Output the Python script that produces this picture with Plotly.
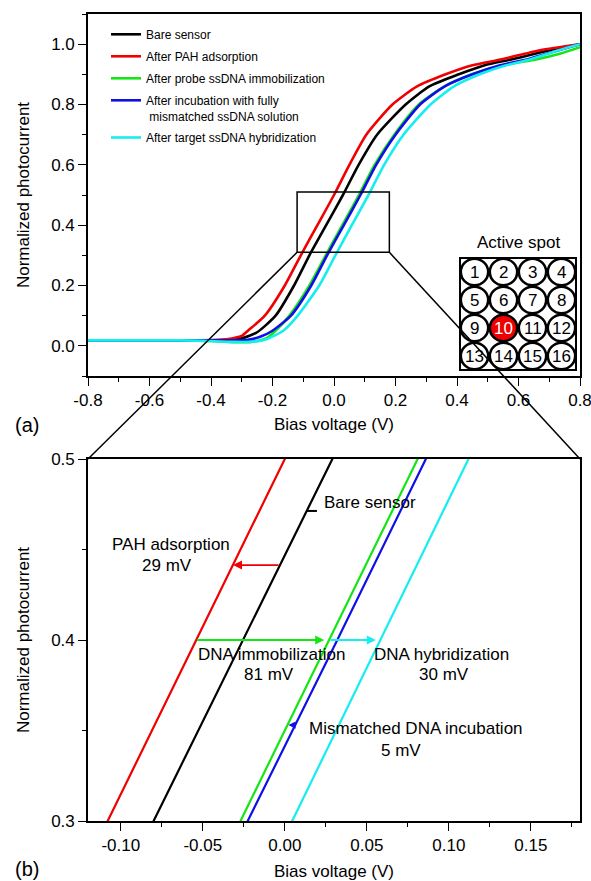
import plotly.graph_objects as go

# ---------------- data ----------------
series_names = [
    "Bare sensor",
    "After PAH adsorption",
    "After probe ssDNA immobilization",
    "After incubation with fully<br>\u00a0mismatched ssDNA solution",
    "After target ssDNA hybridization",
]
series_colors = ["#000000", "#f00000", "#14e614", "#1010e6", "#14eef0"]

bare_v = [-0.80, -0.50, -0.40, -0.35, -0.30, -0.25, -0.19, -0.13, -0.080, -0.0255, 0.029, 0.080, 0.140, 0.233, 0.31, 0.406, 0.49, 0.58, 0.70, 0.80]
bare_i = [0.018, 0.018, 0.018, 0.020, 0.025, 0.045, 0.10, 0.20, 0.30, 0.40, 0.50, 0.60, 0.70, 0.80, 0.86, 0.90, 0.93, 0.95, 0.98, 1.00]

pah_v = [-0.80, -0.50, -0.40, -0.35, -0.30, -0.28, -0.225, -0.160, -0.108, -0.054, 0.000, 0.050, 0.105, 0.19, 0.27, 0.363, 0.45, 0.546, 0.67, 0.80]
pah_i = [0.018, 0.018, 0.019, 0.022, 0.033, 0.05, 0.10, 0.20, 0.30, 0.40, 0.50, 0.60, 0.70, 0.80, 0.86, 0.90, 0.93, 0.95, 0.98, 1.00]

probe_v = [-0.80, -0.50, -0.40, -0.33, -0.27, -0.22, -0.19, -0.145, -0.080, -0.027, 0.027, 0.081, 0.132, 0.196, 0.276, 0.36, 0.449, 0.55, 0.66, 0.74, 0.80]
probe_i = [0.018, 0.018, 0.016, 0.012, 0.013, 0.025, 0.05, 0.10, 0.20, 0.30, 0.40, 0.50, 0.60, 0.70, 0.80, 0.86, 0.90, 0.93, 0.95, 0.97, 0.99]

mism_v = [-0.80, -0.50, -0.40, -0.33, -0.28, -0.24, -0.20, -0.14, -0.074, -0.0226, 0.032, 0.086, 0.137, 0.200, 0.28, 0.36, 0.45, 0.54, 0.63, 0.73, 0.80]
mism_i = [0.018, 0.018, 0.018, 0.018, 0.020, 0.030, 0.05, 0.10, 0.20, 0.30, 0.40, 0.50, 0.60, 0.70, 0.80, 0.86, 0.90, 0.93, 0.95, 0.98, 1.00]

target_v = [-0.80, -0.50, -0.40, -0.33, -0.27, -0.22, -0.165, -0.118, -0.048, 0.0045, 0.058, 0.112, 0.163, 0.226, 0.314, 0.39, 0.474, 0.56, 0.64, 0.73, 0.80]
target_i = [0.018, 0.018, 0.016, 0.013, 0.013, 0.022, 0.05, 0.10, 0.20, 0.30, 0.40, 0.50, 0.60, 0.70, 0.80, 0.86, 0.90, 0.93, 0.95, 0.98, 1.00]

series_v = [bare_v, pah_v, probe_v, mism_v, target_v]
series_i = [bare_i, pah_i, probe_i, mism_i, target_i]

# tick labels
a_xticks = [-0.8, -0.6, -0.4, -0.2, 0.0, 0.2, 0.4, 0.6, 0.8]
a_xlabels = ["-0.8", "-0.6", "-0.4", "-0.2", "0.0", "0.2", "0.4", "0.6", "0.8"]
a_yticks = [0.0, 0.2, 0.4, 0.6, 0.8, 1.0]
a_ylabels = ["0.0", "0.2", "0.4", "0.6", "0.8", "1.0"]
b_xticks = [-0.10, -0.05, 0.00, 0.05, 0.10, 0.15]
b_xlabels = ["-0.10", "-0.05", "0.00", "0.05", "0.10", "0.15"]
b_yticks = [0.3, 0.4, 0.5]
b_ylabels = ["0.3", "0.4", "0.5"]

# zoom window (panel b range) marked in panel a
zoom_x = [-0.12, 0.18]
zoom_y_box = [0.31, 0.51]
zoom_y = [0.3, 0.5]

# shifts annotated in panel b
pah_shift = {"y": 0.4414, "from": -0.0029, "to": -0.0316}
immob_shift = {"y": 0.4, "from": -0.0545, "to": 0.024}
hybrid_shift = {"y": 0.4, "from": 0.027, "to": 0.0555}
mism_shift = {"y": 0.353, "from": 0.0065, "to": 0.0022}

spot_numbers = list(range(1, 17))
active_spot = 10

# ---------------- layout geometry ----------------
W, H = 591, 881
L, R, T, B = 88, 11, 14, 60
PW, PH = W - L - R, H - T - B
A_RANGE_X = [-0.8, 0.8]
A_RANGE_Y = [-0.1, 1.1]
A_DOM = [(H - B - 376) / PH, 1.0]
B_DOM = [0.0, (H - B - 459) / PH]

FONT = "Liberation Sans, Arial, sans-serif"

def px(xp):
    return (xp - L) / PW

def py(yp):
    return (H - B - yp) / PH

def a_to_paper(x, y):
    fx = (x - A_RANGE_X[0]) / (A_RANGE_X[1] - A_RANGE_X[0])
    fy = A_DOM[0] + (y - A_RANGE_Y[0]) / (A_RANGE_Y[1] - A_RANGE_Y[0]) * (A_DOM[1] - A_DOM[0])
    return fx, fy

fig = go.Figure()

for k in range(5):
    fig.add_trace(go.Scatter(
        x=series_v[k], y=series_i[k], mode="lines",
        line=dict(color=series_colors[k], width=2.6, shape="spline", smoothing=0.6),
        name=series_names[k], xaxis="x", yaxis="y", showlegend=True,
        legendgroup="g%d" % k,
    ))
for k in range(5):
    fig.add_trace(go.Scatter(
        x=series_v[k], y=series_i[k], mode="lines",
        line=dict(color=series_colors[k], width=2.2),
        name=series_names[k], xaxis="x2", yaxis="y2", showlegend=False,
        legendgroup="g%d" % k,
    ))

axis_common = dict(
    showgrid=False, zeroline=False, showline=True, linecolor="black", linewidth=1.6,
    mirror=True, ticks="outside", tickcolor="black", tickwidth=1.4, ticklen=8,
    tickfont=dict(family=FONT, size=17, color="black"), automargin=False,
    ticklabeloverflow="allow",
)

fig.update_layout(
    width=W, height=H,
    margin=dict(l=L, r=R, t=T, b=B, autoexpand=False),
    paper_bgcolor="white", plot_bgcolor="white",
    font=dict(family=FONT, size=17, color="black"),
    xaxis=dict(axis_common, domain=[0, 1], range=A_RANGE_X, anchor="y",
               tickmode="array", tickvals=a_xticks, ticktext=a_xlabels,
               minor=dict(ticks="outside", ticklen=4, dtick=0.1, tick0=0, tickcolor="black"),
               title=dict(text="Bias voltage (V)", standoff=9, font=dict(size=17))),
    yaxis=dict(axis_common, domain=A_DOM, range=A_RANGE_Y, anchor="x",
               tickmode="array", tickvals=a_yticks, ticktext=a_ylabels,
               minor=dict(ticks="outside", ticklen=4, dtick=0.1, tick0=0, tickcolor="black"),
               title=dict(text="Normalized photocurrent", standoff=17, font=dict(size=17))),
    xaxis2=dict(axis_common, domain=[0, 1], range=zoom_x, anchor="y2",
                tickmode="array", tickvals=b_xticks, ticktext=b_xlabels,
                minor=dict(ticks="outside", ticklen=4, dtick=0.025, tick0=0, tickcolor="black"),
                title=dict(text="Bias voltage (V)", standoff=11, font=dict(size=17))),
    yaxis2=dict(axis_common, domain=B_DOM, range=zoom_y, anchor="x2",
                tickmode="array", tickvals=b_yticks, ticktext=b_ylabels,
                minor=dict(ticks="outside", ticklen=4, dtick=0.05, tick0=0, tickcolor="black"),
                title=dict(text="Normalized photocurrent", standoff=17, font=dict(size=17))),
    legend=dict(x=px(106), y=py(20), xanchor="left", yanchor="top",
                font=dict(family=FONT, size=12, color="black"),
                bgcolor="rgba(0,0,0,0)", tracegroupgap=3, valign="top"),
    showlegend=True,
)

shapes = []
# zoom window rectangle in panel a
shapes.append(dict(type="rect", xref="x", yref="y", x0=zoom_x[0], x1=zoom_x[1],
                   y0=zoom_y_box[0], y1=zoom_y_box[1], line=dict(color="black", width=1.5)))

# inset: 4x4 sensor spots
box = dict(x0=460, x1=576, y0=258, y1=370)
shapes.append(dict(type="rect", xref="paper", yref="paper",
                   x0=px(box["x0"]), x1=px(box["x1"]), y0=py(box["y1"]), y1=py(box["y0"]),
                   line=dict(color="black", width=2), fillcolor="white"))
cw = (box["x1"] - box["x0"]) / 4
ch = (box["y1"] - box["y0"]) / 4
annotations = []
for idx, n in enumerate(spot_numbers):
    r, c = divmod(idx, 4)
    cx0 = box["x0"] + c * cw + 0.8
    cx1 = box["x0"] + (c + 1) * cw - 0.8
    cy0 = box["y0"] + r * ch + 0.8
    cy1 = box["y0"] + (r + 1) * ch - 0.8
    active = (n == active_spot)
    shapes.append(dict(type="circle", xref="paper", yref="paper",
                       x0=px(cx0), x1=px(cx1), y0=py(cy1), y1=py(cy0),
                       line=dict(color="black", width=2.6),
                       fillcolor="#ee0000" if active else "white"))
    annotations.append(dict(xref="paper", yref="paper", x=px((cx0 + cx1) / 2), y=py((cy0 + cy1) / 2 + 0.5),
                            text=str(n), showarrow=False,
                            font=dict(family=FONT, size=17, color="white" if active else "black"),
                            xanchor="center", yanchor="middle"))
annotations.append(dict(xref="paper", yref="paper", x=px(518), y=py(243), text="Active spot",
                        showarrow=False, font=dict(family=FONT, size=17, color="black"),
                        xanchor="center", yanchor="middle"))

# connector lines from zoom window to panel b
bl = a_to_paper(zoom_x[0], zoom_y_box[0])
br = a_to_paper(zoom_x[1], zoom_y_box[0])
shapes.append(dict(type="line", xref="paper", yref="paper", x0=bl[0], y0=bl[1], x1=0, y1=B_DOM[1],
                   line=dict(color="black", width=1.5)))
shapes.append(dict(type="line", xref="paper", yref="paper", x0=br[0], y0=br[1], x1=1, y1=B_DOM[1],
                   line=dict(color="black", width=1.5)))

# "Bare sensor" leader
shapes.append(dict(type="line", xref="x2", yref="y2", x0=0.0134, x1=0.0196, y0=0.4713, y1=0.4713,
                   line=dict(color="black", width=2)))

fig.update_layout(shapes=shapes)

def shift_arrow(s, color, head=2, size=1.0):
    return dict(xref="x2", yref="y2", axref="x2", ayref="y2",
                x=s["to"], y=s["y"], ax=s["from"], ay=s["y"], text="",
                showarrow=True, arrowhead=head, arrowsize=size, arrowwidth=1.8, arrowcolor=color,
                standoff=0, startstandoff=0)

annotations.append(shift_arrow(pah_shift, series_colors[1]))
annotations.append(shift_arrow(immob_shift, series_colors[2]))
annotations.append(shift_arrow(hybrid_shift, series_colors[4]))
annotations.append(shift_arrow(mism_shift, series_colors[3], head=2, size=0.8))

def btext(x, y, t):
    return dict(xref="x2", yref="y2", x=x, y=y, text=t, showarrow=False,
                font=dict(family=FONT, size=17, color="black"), xanchor="center", yanchor="middle")

annotations += [
    dict(xref="x2", yref="y2", x=0.0225, y=0.4757, text="Bare sensor", showarrow=False,
         font=dict(family=FONT, size=17, color="black"), xanchor="left", yanchor="middle"),
    btext(-0.0695, 0.453, "PAH adsorption"),
    btext(-0.0716, 0.441, "29 mV"),
    btext(-0.008, 0.392, "DNA immobilization"),
    btext(-0.0098, 0.381, "81 mV"),
    btext(0.0955, 0.392, "DNA hybridization"),
    btext(0.0973, 0.3807, "30 mV"),
    btext(0.080, 0.351, "Mismatched DNA incubation"),
    btext(0.071, 0.339, "5 mV"),
]

annotations.append(dict(xref="paper", yref="paper", x=px(27), y=py(425), text="(a)", showarrow=False,
                        font=dict(family=FONT, size=20, color="black"), xanchor="center", yanchor="middle"))
annotations.append(dict(xref="paper", yref="paper", x=px(27), y=py(869), text="(b)", showarrow=False,
                        font=dict(family=FONT, size=20, color="black"), xanchor="center", yanchor="middle"))

fig.update_layout(annotations=annotations)

fig.write_html("out.html", config={"displayModeBar": False},
               post_script="document.body.style.margin='0';document.body.style.overflow='hidden';")
